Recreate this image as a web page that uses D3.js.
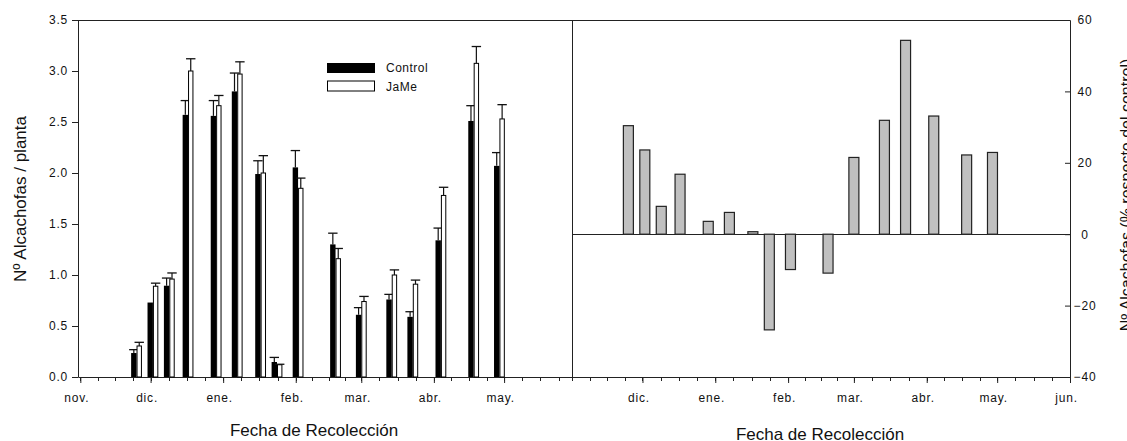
<!DOCTYPE html>
<html>
<head>
<meta charset="utf-8">
<script src="https://cdn.jsdelivr.net/npm/d3@7"></script>
<style>
  body { margin: 0; background: #fff; }
  svg text { font-family: Arial, "Liberation Sans", sans-serif; fill: #111; }
  .tick-label { font-size: 12px; letter-spacing: 0.8px; }
  .title { font-size: 17px; }
  .title-small { font-size: 16px; }
  .legend-label { font-size: 12px; letter-spacing: 0.5px; }
</style>
</head>
<body>
<svg id="chart" width="1127" height="441"></svg>
<script>
// harvest dates (one per sampling)
const harvestDates = [
  "2008-11-25", "2008-12-02", "2008-12-09", "2008-12-17", "2008-12-29",
  "2009-01-07", "2009-01-17", "2009-01-24", "2009-02-02", "2009-02-18",
  "2009-03-01", "2009-03-14", "2009-03-23", "2009-04-04", "2009-04-18",
  "2009-04-29",
];

// artichokes per plant
const controlValues = [0.235, 0.73, 0.895, 2.57, 2.56, 2.8, 1.99, 0.147, 2.055, 1.3, 0.61, 0.76, 0.59, 1.34, 2.51, 2.07];
const controlErr = [0.033, 0, 0.075, 0.14, 0.15, 0.18, 0.13, 0.045, 0.165, 0.11, 0.07, 0.05, 0.05, 0.12, 0.15, 0.13];
const jameValues = [0.304, 0.89, 0.96, 3.0, 2.66, 2.97, 2.0, 0.12, 1.85, 1.16, 0.74, 1.0, 0.91, 1.78, 3.075, 2.53];
const jameErr = [0.036, 0.03, 0.06, 0.12, 0.1, 0.12, 0.17, 0.005, 0.1, 0.1, 0.05, 0.05, 0.04, 0.08, 0.165, 0.14];

// % respect to control
const pctValues = [30.4, 23.6, 7.8, 16.8, 3.6, 6.1, 0.7, -26.8, -9.9, -10.9, 21.5, 31.9, 54.3, 33.1, 22.2, 22.9];

// tick labels
const leftYTicks = [0, 0.5, 1, 1.5, 2, 2.5, 3, 3.5];
const rightYTicks = [-40, -20, 0, 20, 40, 60];
const monthNames = ["ene.", "feb.", "mar.", "abr.", "may.", "jun.", "jul.", "ago.", "sep.", "oct.", "nov.", "dic."];
const seriesNames = ["Control", "JaMe"];

const parseDate = d3.timeParse("%Y-%m-%d");
const dates = harvestDates.map(parseDate);

const svg = d3.select("#chart");
const plotTop = 20;
const plotBottom = 377;
const leftX0 = 78, midX = 572, rightX1 = 1070;

// scales
const xLeft = d3.scaleTime()
  .domain([new Date(2008, 9, 31), new Date(2009, 4, 30)])
  .range([leftX0, midX]);
const xRight = d3.scaleTime()
  .domain([new Date(2008, 10, 1), new Date(2009, 5, 1)])
  .range([midX, rightX1]);
const yLeft = d3.scaleLinear().domain([0, 3.5]).range([plotBottom, plotTop]);
const yRight = d3.scaleLinear().domain([-40, 60]).range([plotBottom, plotTop]);
const xPair = d3.scaleBand().domain(seriesNames).range([-5.4, 5.4]);

const fmtMonth = (d) => monthNames[d.getMonth()];

// minor ticks: each month cut in 4
function minorTicks(scale) {
  const [a, b] = scale.domain();
  const out = [];
  d3.timeMonth.range(d3.timeMonth.floor(a), b).forEach((m) => {
    const next = d3.timeMonth.offset(m, 1);
    for (let k = 0; k < 4; k++) {
      const t = new Date(+m + ((next - m) * k) / 4);
      if (t >= a && t <= b) out.push(t);
    }
  });
  out.push(b);
  return out;
}

// frame lines
const frame = svg.append("g").attr("stroke", "#222").attr("stroke-width", 1);
frame.append("line").attr("x1", leftX0).attr("x2", rightX1 + 0.5)
  .attr("y1", plotTop + 0.5).attr("y2", plotTop + 0.5);
frame.append("line").attr("x1", midX + 0.5).attr("x2", midX + 0.5)
  .attr("y1", plotTop).attr("y2", plotBottom + 0.5);

// ---------- left panel ----------
const yAxisL = svg.append("g")
  .attr("transform", `translate(${leftX0},0)`)
  .call(d3.axisLeft(yLeft).tickValues(leftYTicks).tickFormat(d3.format(".1f"))
    .tickSize(6).tickSizeOuter(0).tickPadding(4));

const xAxisL = svg.append("g")
  .attr("transform", `translate(0,${plotBottom})`)
  .call(d3.axisBottom(xLeft).tickValues(d3.timeMonth.range(new Date(2008, 10, 1), new Date(2009, 4, 2)))
    .tickFormat(fmtMonth).tickSize(6).tickSizeOuter(0).tickPadding(10));

svg.append("g").selectAll("line")
  .data(minorTicks(xLeft))
  .join("line")
  .attr("x1", (d) => Math.round(xLeft(d)) + 0.5)
  .attr("x2", (d) => Math.round(xLeft(d)) + 0.5)
  .attr("y1", plotBottom).attr("y2", plotBottom + 4)
  .attr("stroke", "#222");

const pairs = dates.map((d, i) => ({
  date: d,
  values: [
    { name: "Control", value: controlValues[i], err: controlErr[i] },
    { name: "JaMe", value: jameValues[i], err: jameErr[i] },
  ],
}));

// draw control first, then JaMe (JaMe bars cover control caps)
seriesNames.forEach((name, si) => {
  const g = svg.append("g");
  const items = pairs.map((p) => ({ date: p.date, ...p.values[si] }));
  const cx = (d) => xLeft(d.date) + xPair(name) + xPair.bandwidth() / 2;

  items.forEach((d) => {
    const x0 = xLeft(d.date) + xPair(name);
    if (name === "Control") {
      g.append("rect")
        .attr("x", x0).attr("width", xPair.bandwidth())
        .attr("y", yLeft(d.value)).attr("height", yLeft(0) - yLeft(d.value))
        .attr("fill", "#000");
    } else {
      g.append("rect")
        .attr("x", x0 + 0.5).attr("width", xPair.bandwidth() - 1)
        .attr("y", yLeft(d.value)).attr("height", yLeft(0) - yLeft(d.value))
        .attr("fill", "#fff").attr("stroke", "#000").attr("stroke-width", 1);
    }
    if (d.err > 0) {
      const yt = yLeft(d.value + d.err);
      g.append("line").attr("x1", cx(d)).attr("x2", cx(d))
        .attr("y1", yLeft(d.value)).attr("y2", yt)
        .attr("stroke", "#111").attr("stroke-width", 1.2);
      g.append("line").attr("x1", cx(d) - 4.7).attr("x2", cx(d) + 4.7)
        .attr("y1", yt).attr("y2", yt)
        .attr("stroke", "#111").attr("stroke-width", 1.3);
    }
  });
});

// legend
const legend = svg.append("g").attr("transform", "translate(327,63)");
legend.append("rect").attr("x", 0).attr("y", 0).attr("width", 48).attr("height", 10).attr("fill", "#000");
legend.append("rect").attr("x", 0.5).attr("y", 18).attr("width", 47).attr("height", 10)
  .attr("fill", "#fff").attr("stroke", "#000");
legend.append("text").attr("class", "legend-label").attr("x", 59).attr("y", 5).attr("dy", "0.35em").text(seriesNames[0]);
legend.append("text").attr("class", "legend-label").attr("x", 59).attr("y", 23.5).attr("dy", "0.35em").text(seriesNames[1]);

// ---------- right panel ----------
const xAxisR = svg.append("g")
  .attr("transform", `translate(0,${plotBottom})`)
  .call(d3.axisBottom(xRight).tickValues(d3.timeMonth.range(new Date(2008, 11, 1), new Date(2009, 5, 2)))
    .tickFormat(fmtMonth).tickSize(6).tickSizeOuter(0).tickPadding(10));

svg.append("g").selectAll("line")
  .data(minorTicks(xRight))
  .join("line")
  .attr("x1", (d) => Math.round(xRight(d)) + 0.5)
  .attr("x2", (d) => Math.round(xRight(d)) + 0.5)
  .attr("y1", plotBottom).attr("y2", plotBottom + 4)
  .attr("stroke", "#222");

const yAxisR = svg.append("g")
  .attr("transform", `translate(${rightX1},0)`)
  .call(d3.axisRight(yRight).tickValues(rightYTicks).tickSize(-5).tickSizeOuter(0).tickPadding(15));
yAxisR.selectAll("text").attr("text-anchor", "middle");

// zero line
svg.append("line")
  .attr("x1", midX).attr("x2", rightX1)
  .attr("y1", Math.round(yRight(0)) + 0.5).attr("y2", Math.round(yRight(0)) + 0.5)
  .attr("stroke", "#222");

svg.append("g").selectAll("rect")
  .data(dates.map((d, i) => ({ date: d, value: pctValues[i] })))
  .join("rect")
  .attr("x", (d) => xRight(d.date) - 5)
  .attr("width", 10)
  .attr("y", (d) => yRight(Math.max(0, d.value)))
  .attr("height", (d) => Math.abs(yRight(d.value) - yRight(0)))
  .attr("fill", "#c0c0c0")
  .attr("stroke", "#222")
  .attr("stroke-width", 1.2);

// axis styling
svg.selectAll(".domain").attr("stroke", "#222");
svg.selectAll(".tick line").attr("stroke", "#222");
svg.selectAll(".tick text").attr("class", "tick-label");
xAxisL.selectAll(".tick text").attr("x", -4);
xAxisR.selectAll(".tick text").attr("x", -4);

// titles (right-hand ones run past the page edge, as in the original)
svg.append("text").attr("class", "title")
  .attr("x", 314).attr("y", 436).attr("text-anchor", "middle")
  .text("Fecha de Recolección");
svg.append("text").attr("class", "title")
  .attr("x", 820).attr("y", 440).attr("text-anchor", "middle")
  .text("Fecha de Recolección");
svg.append("text").attr("class", "title")
  .attr("transform", "translate(26,199) rotate(-90)").attr("text-anchor", "middle")
  .text("Nº Alcachofas / planta");
svg.append("text").attr("class", "title-small")
  .attr("transform", "translate(1132,195) rotate(-90)").attr("text-anchor", "middle")
  .text("Nº Alcachofas (% respecto del control)");
</script>
</body>
</html>
